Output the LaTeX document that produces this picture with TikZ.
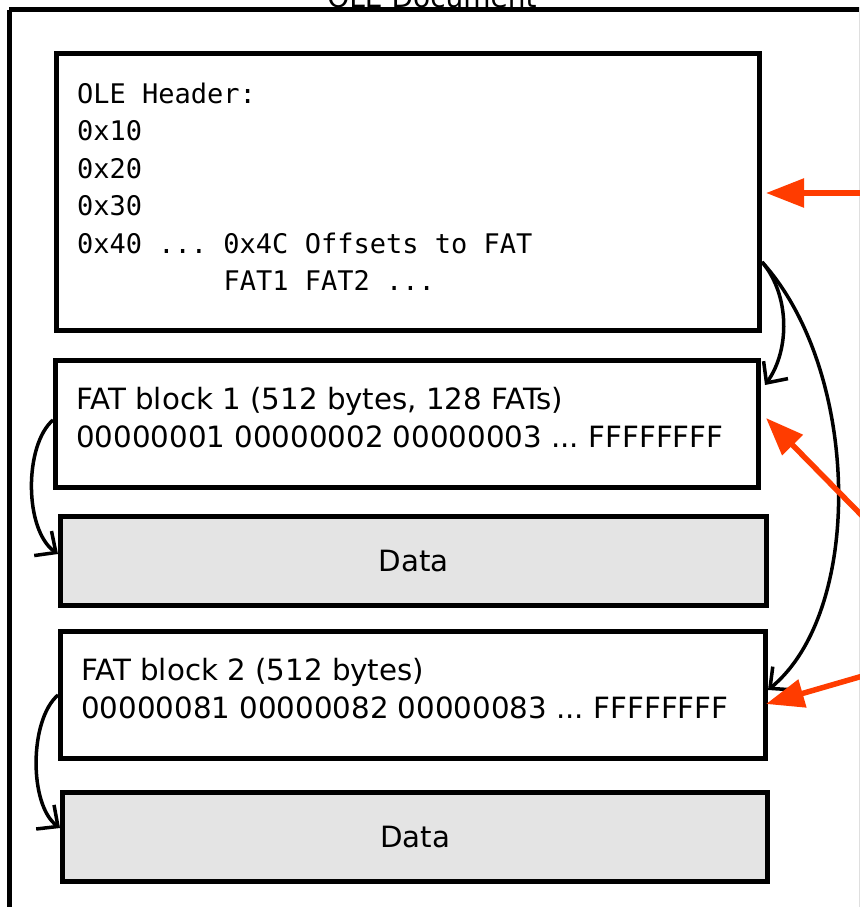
\documentclass[tikz,border=0pt]{standalone}
\usepackage{fontspec}
\setmainfont{DejaVu Sans}
\newfontfamily\monofnt{DejaVu Sans Mono}
\usetikzlibrary{arrows.meta,calc}
\definecolor{arrred}{RGB}{255,60,0}
\definecolor{datagray}{RGB}{228,228,228}
\frenchspacing
\tikzset{
  blockbox/.style={draw=black, line width=5pt, fill=white, inner sep=0pt},
  databox/.style={draw=black, line width=5pt, fill=datagray, inner sep=0pt},
  sanstext/.style={inner sep=0pt, font=\frenchspacing\fontsize{29.3}{38}\selectfont, align=left},
  monotext/.style={inner sep=0pt, font=\frenchspacing\monofnt\fontsize{27}{37.5}\selectfont, align=left},
  link/.style={draw=black, line width=3.5pt, -{Straight Barb[length=16pt,width=30pt,line width=3.5pt]}},
  pointer/.style={draw=arrred, line width=5.5pt, -{Triangle[length=38pt,width=28pt]}}
}
\begin{document}
\begin{tikzpicture}[x=1pt,y=-1pt]
\useasboundingbox (0,0) rectangle (859,907);
% outer document frame
\begin{scope}
\clip (0,0) rectangle (859,907);
\draw[line width=5pt] (9,10) -- (9,960) (9,10) -- (861,10) -- (861,960);
\node[inner sep=0pt, anchor=base, font=\fontsize{28}{30}\selectfont] (title) at (432,8) {OLE Document};
\end{scope}

% boxes
\node[blockbox, anchor=north west, minimum width=703pt, minimum height=277pt] (hdr) at (54,51) {};
\node[blockbox, anchor=north west, minimum width=703pt, minimum height=127pt] (fat1) at (53,358) {};
\node[databox, anchor=north west, minimum width=706pt, minimum height=89pt] (data1) at (58,514) {};
\node[blockbox, anchor=north west, minimum width=705pt, minimum height=127pt] (fat2) at (58,629) {};
\node[databox, anchor=north west, minimum width=705pt, minimum height=89pt] (data2) at (60,790) {};

% texts (anchor base = baseline of last line)
\node[monotext, anchor=base west] (hdrtxt) at (77,290.5) {OLE Header:\\0x10\\0x20\\0x30\\0x40 ... 0x4C Offsets to FAT\\\phantom{0x40 ... }FAT1 FAT2 ...};
\node[sanstext, anchor=base west] (fat1txt) at (76,447) {FAT block 1 (512 bytes, 128 FATs)\\00000001 00000002 00000003 ... FFFFFFFF};
\node[sanstext, anchor=base west] (fat2txt) at (81,718) {FAT block 2 (512 bytes)\\00000081 00000082 00000083 ... FFFFFFFF};
\node[sanstext] (data1txt) at (data1.center) {Data};
\node[sanstext] (data2txt) at (data2.center) {Data};

% black links
\path[link] ($(hdr.north east)+(0,211)$) .. controls (790,295) and (790,350) .. ($(fat1.north east)+(4,27)$);
\path[link] ($(hdr.north east)+(0,211)$) .. controls (860,370) and (865,610) .. ($(fat2.north east)+(0,61)$);
\path[link] ($(fat1.north west)+(0,62)$) .. controls (24,445) and (24,530) .. ($(data1.north west)+(0,40)$);
\path[link] ($(fat2.north west)+(0,66)$) .. controls (29,720) and (29,805) .. ($(data2.north west)+(0,38)$);

% red pointers from outside
\coordinate (src1) at (880,193);
\coordinate (src2) at (880,534);
\coordinate (src3) at (880,671);
\path[pointer] (src1) -- ($(hdr.north east)+(4,142)$);
\path[pointer] (src2) -- ($(fat1.north east)+(5,60)$);
\path[pointer] (src3) -- ($(fat2.north east)+(-2,75)$);
\end{tikzpicture}
\end{document}
